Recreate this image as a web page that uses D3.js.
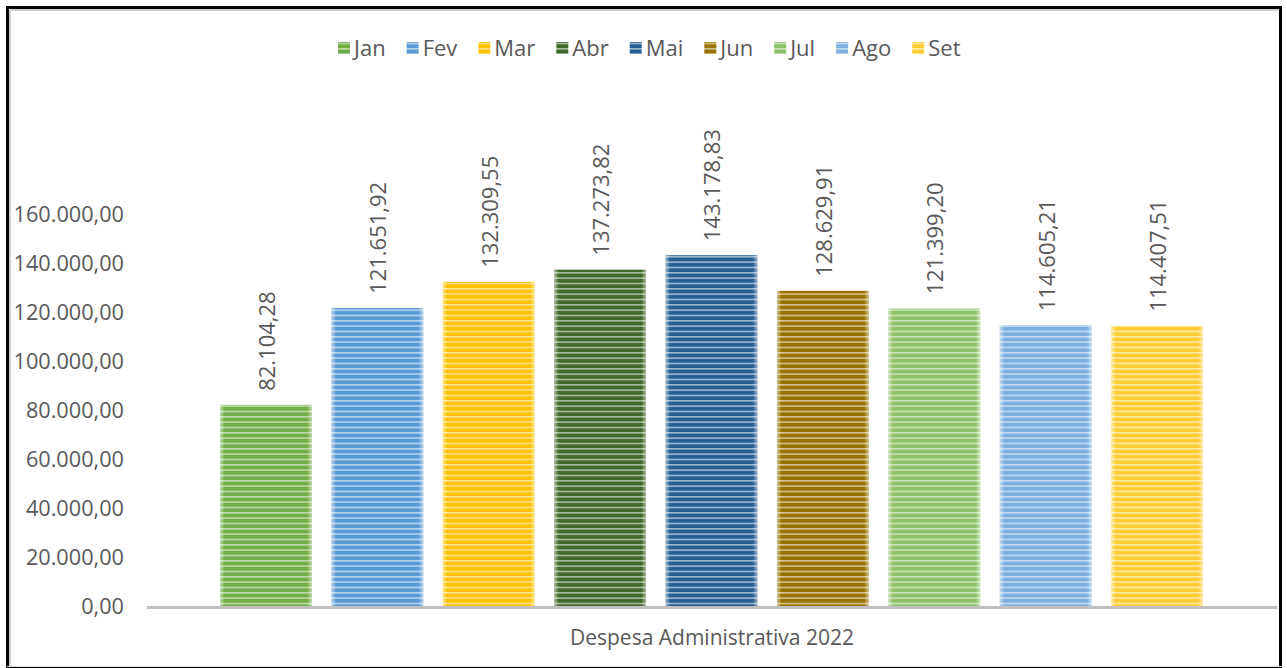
<!DOCTYPE html>
<html><head><meta charset="utf-8">
<script src="https://cdn.jsdelivr.net/npm/d3@7"></script>
<style>body{margin:0;background:#fff;} text{font-family:"Open Sans",sans-serif;fill:#595959;}</style>
</head><body>
<svg id="c" width="1287" height="668"></svg>
<script>
const months = ["Jan","Fev","Mar","Abr","Mai","Jun","Jul","Ago","Set"];
const values = [82104.28,121651.92,132309.55,137273.82,143178.83,128629.91,121399.20,114605.21,114407.51];
const valueLabels = ["82.104,28","121.651,92","132.309,55","137.273,82","143.178,83","128.629,91","121.399,20","114.605,21","114.407,51"];
const colors = ["#70AD47","#5B9BD5","#FFC000","#43682B","#255E91","#997300","#8CC168","#7CAFDD","#FFCD33"];
const yTicks = [0,20000,40000,60000,80000,100000,120000,140000,160000];
const categoryLabel = "Despesa Administrativa 2022";

const svg = d3.select("#c");
const fmt = v => { const s = v.toFixed(2).split("."); return s[0].replace(/\B(?=(\d{3})+(?!\d))/g,".")+","+s[1]; };

// frame
svg.append("rect").attr("x",7.5).attr("y",7.5).attr("width",1273).attr("height",660)
  .attr("fill","none").attr("stroke","#000").attr("stroke-width",3);
svg.append("line").attr("x1",7).attr("x2",1282).attr("y1",666.5).attr("y2",666.5).attr("stroke","#d9d9d9").attr("stroke-width",1);
svg.append("line").attr("x1",10).attr("x2",1278).attr("y1",10).attr("y2",10).attr("stroke","#d0d0d0").attr("stroke-width",2);
svg.append("line").attr("x1",10).attr("x2",10).attr("y1",10).attr("y2",666).attr("stroke","#d0d0d0").attr("stroke-width",2);

const defs = svg.append("defs");
const light = c => d3.interpolateRgb(c, "#fff")(0.55);
colors.forEach((c,i)=>{
  const p = defs.append("pattern").attr("id","pat"+i).attr("patternUnits","userSpaceOnUse")
    .attr("width",10).attr("height",16/3);
  p.append("rect").attr("width",10).attr("height",16/3).attr("fill",c);
  p.append("rect").attr("y",0).attr("width",10).attr("height",1.6).attr("fill",light(c));
});
const g = defs.append("linearGradient").attr("id","bevel").attr("x1","0").attr("x2","1").attr("y1","0").attr("y2","0");
[[0,0.55],[0.05,0],[0.95,0],[1,0.55]].forEach(([o,a])=>g.append("stop").attr("offset",o).attr("stop-color","#fff").attr("stop-opacity",a));

const y = d3.scaleLinear().domain([0,160000]).range([606,214]);
const x = d3.scaleBand().domain(months).range([220,1203]).paddingInner(0.175).paddingOuter(0);

// y tick labels
svg.append("g").selectAll("text").data(yTicks).join("text")
  .attr("x",124).attr("y",d=>y(d)).attr("dy","0.36em").attr("text-anchor","end")
  .attr("font-size",21.7).text(d=>fmt(d));

// bars
const bars = svg.append("g");
bars.selectAll("rect.b").data(values).join("rect").attr("class","b")
  .attr("x",(d,i)=>x(months[i])).attr("width",x.bandwidth())
  .attr("y",d=>y(d)).attr("height",d=>y(0)-y(d))
  .attr("fill",(d,i)=>`url(#pat${i})`);
bars.selectAll("rect.o").data(values).join("rect").attr("class","o")
  .attr("x",(d,i)=>x(months[i])).attr("width",x.bandwidth())
  .attr("y",d=>y(d)).attr("height",d=>y(0)-y(d))
  .attr("fill","url(#bevel)");

// axis line
svg.append("line").attr("x1",147).attr("x2",1277).attr("y1",y(0)+1.5).attr("y2",y(0)+1.5)
  .attr("stroke","#C0C0C0").attr("stroke-width",3);

// value labels
svg.append("g").selectAll("text").data(values).join("text")
  .attr("transform",(d,i)=>`translate(${x(months[i])+x.bandwidth()/2+1},${y(d)-14}) rotate(-90)`)
  .attr("dy","0.36em").attr("text-anchor","start").attr("font-size",22)
  .text((d,i)=>valueLabels[i]);

// category label
svg.append("text").attr("x",712).attr("y",637).attr("dy","0.36em").attr("text-anchor","middle")
  .attr("font-size",21).text(categoryLabel);

// legend
const leg = svg.append("g");
let lx = 338;
months.forEach((m,i)=>{
  leg.append("rect").attr("x",lx).attr("y",42).attr("width",12).attr("height",12).attr("fill",`url(#pat${i})`);
  const t = leg.append("text").attr("x",lx+16).attr("y",48).attr("dy","0.36em").attr("font-size",22).text(m);
  lx += 16 + t.node().getComputedTextLength() + 21;
});
</script>
</body></html>
